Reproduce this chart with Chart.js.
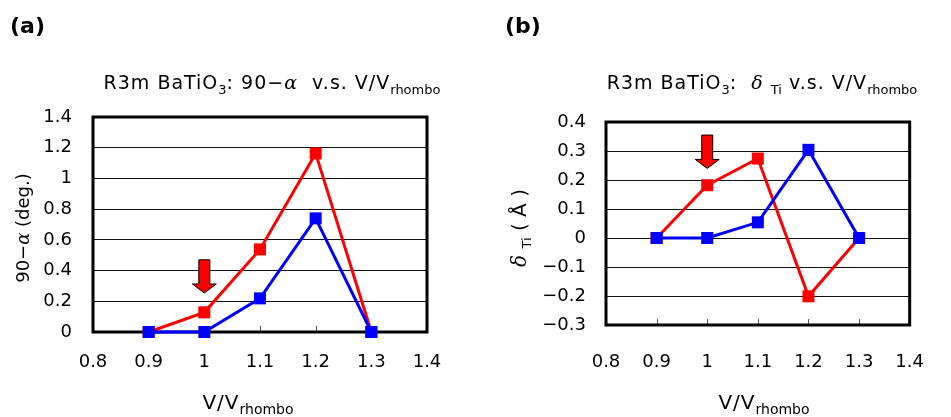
<!DOCTYPE html>
<html>
<head>
<meta charset="utf-8">
<script src="https://cdn.jsdelivr.net/npm/chart.js@4/dist/chart.umd.min.js"></script>
<style>
  body { margin: 0; background: #fff; }
  #wrap { position: relative; width: 951px; height: 417px; overflow: hidden;
          font-family: "DejaVu Sans", sans-serif; color: #000; }
  .panel { position: absolute; top: 0; width: 475px; height: 417px; }
  .txt { position: absolute; white-space: nowrap; line-height: 24px; }
  .tag { font-weight: bold; font-size: 22px; top: 14px; }
  .ttl { font-size: 19px; top: 70px; text-align: center; letter-spacing: 1px; }
  .xt { font-size: 20px; top: 390px; text-align: center; letter-spacing: 1px; }
  .xt sub { font-size: 14px; letter-spacing: 0; }
  .yt { font-size: 18px; transform: rotate(-90deg); transform-origin: center center; text-align: center; }
  sub { font-size: 13px; vertical-align: -5px; line-height: 0; letter-spacing: 0; }
  i { font-family: "DejaVu Serif", serif; }
</style>
</head>
<body>
<div id="wrap">
  <div class="panel" style="left:0"><canvas id="ca" width="475" height="417"></canvas></div>
  <div class="panel" style="left:476px"><canvas id="cb" width="475" height="417"></canvas></div>

  <div class="txt tag" style="left:10px">(a)</div>
  <div class="txt tag" style="left:505px">(b)</div>

  <div class="txt ttl" style="left:72px;width:400px">R3m BaTiO<sub>3</sub>: 90−<i>α</i>&nbsp; v.s. V/V<sub>rhombo</sub></div>
  <div class="txt ttl" style="left:562px;width:400px">R3m BaTiO<sub>3</sub>: &nbsp;<i>δ</i> <sub>Ti</sub> v.s. V/V<sub>rhombo</sub></div>

  <div class="txt xt" style="left:148px;width:200px">V/V<sub>rhombo</sub></div>
  <div class="txt xt" style="left:664px;width:200px">V/V<sub>rhombo</sub></div>

  <div class="txt yt" style="left:-77px;top:216px;width:200px">90−<i>α</i> (deg.)</div>
  <div class="txt yt" style="left:419px;top:216px;width:200px;font-size:20px"><i>δ</i> <sub>Ti</sub> ( Å )</div>
</div>

<script>
const volumeRatio = [0.9, 1.0, 1.1, 1.2, 1.3];

// (a) 90 - alpha (deg.)
const angleRed = [0, 0.128, 0.538, 1.163, 0];
const angleBlue = [0, 0, 0.219, 0.74, 0];

// (b) delta Ti (Angstrom)
const shiftRed = [0, 0.182, 0.274, -0.201, 0];
const shiftBlue = [0, 0, 0.054, 0.304, 0];

const xTicks = [0.8, 0.9, 1.0, 1.1, 1.2, 1.3, 1.4];
const angleTicks = [0, 0.2, 0.4, 0.6, 0.8, 1.0, 1.2, 1.4];
const shiftTicks = [-0.3, -0.2, -0.1, 0, 0.1, 0.2, 0.3, 0.4];

// marker arrows: x, top value, tip value
const arrowA = [1.0, 0.47, 0.254];
const arrowB = [1.0, 0.355, 0.24];

const FONT = "'DejaVu Sans', sans-serif";
const fmt = (v) => {
  const s = String(Number(v.toFixed(1)));
  return s.replace("-", "\u2212");
};

const pairs = (ys) => volumeRatio.map((x, i) => ({ x, y: ys[i] }));

const series = (data, color) => ({
  data: pairs(data),
  showLine: true,
  borderColor: color,
  backgroundColor: color,
  borderWidth: 3,
  pointStyle: "rect",
  pointRadius: 8.5,
  pointHoverRadius: 8.5,
  pointBorderWidth: 0,
  clip: false,
});

const framePlugin = {
  id: "frame",
  beforeDatasetsDraw(chart) {
    const { ctx, chartArea: a, scales } = chart;
    ctx.save();
    ctx.strokeStyle = "#555";
    ctx.lineWidth = 1;
    xTicks.slice(1, -1).forEach((v) => {
      const px = Math.round(scales.x.getPixelForValue(v)) + 0.5;
      ctx.beginPath();
      ctx.moveTo(px, a.bottom);
      ctx.lineTo(px, a.bottom - 6);
      ctx.stroke();
    });
    ctx.strokeStyle = "#000";
    ctx.lineWidth = 3;
    ctx.strokeRect(a.left, a.top, a.right - a.left, a.bottom - a.top);
    ctx.restore();
  },
  afterDatasetsDraw(chart, args, opts) {
    const [ax, top, tip] = opts.arrow;
    const { ctx, scales } = chart;
    const x = scales.x.getPixelForValue(ax);
    const yTop = scales.y.getPixelForValue(top);
    const yTip = scales.y.getPixelForValue(tip);
    const yNeck = yTip - 9;
    ctx.save();
    ctx.beginPath();
    ctx.moveTo(x - 5.5, yTop);
    ctx.lineTo(x + 5.5, yTop);
    ctx.lineTo(x + 5.5, yNeck);
    ctx.lineTo(x + 12, yNeck);
    ctx.lineTo(x, yTip);
    ctx.lineTo(x - 12, yNeck);
    ctx.lineTo(x - 5.5, yNeck);
    ctx.closePath();
    ctx.fillStyle = "#ff0000";
    ctx.fill();
    ctx.strokeStyle = "#000";
    ctx.lineWidth = 1;
    ctx.stroke();
    ctx.restore();
  },
};

function makeChart(id, red, blue, yTicks, arrow, box) {
  const yMin = yTicks[0];
  const yMax = yTicks[yTicks.length - 1];
  return new Chart(document.getElementById(id), {
    type: "scatter",
    data: { datasets: [series(blue, "#0000ff"), series(red, "#ff0000")] },
    options: {
      responsive: false,
      devicePixelRatio: 1,
      animation: false,
      events: [],
      layout: { padding: { left: 0, right: box.right, top: box.top, bottom: 0 } },
      plugins: { legend: { display: false }, tooltip: { enabled: false }, frame: { arrow } },
      scales: {
        x: {
          type: "linear",
          min: 0.8,
          max: 1.4,
          afterBuildTicks: (s) => { s.ticks = xTicks.map((v) => ({ value: v })); },
          afterFit: (s) => { s.height = box.xHeight; },
          grid: { display: false, drawTicks: false },
          border: { display: false },
          ticks: { padding: box.xPad, color: "#000", font: { family: FONT, size: 18 }, callback: fmt, maxRotation: 0 },
        },
        y: {
          type: "linear",
          min: yMin,
          max: yMax,
          afterBuildTicks: (s) => { s.ticks = yTicks.map((v) => ({ value: v })); },
          afterFit: (s) => { s.width = box.yWidth; },
          grid: { color: "#111", lineWidth: 1, drawTicks: false },
          border: { display: false },
          ticks: { padding: box.yPad, color: "#000", font: { family: FONT, size: 18 }, callback: fmt },
        },
      },
    },
    plugins: [framePlugin],
  });
}

makeChart("ca", angleRed, angleBlue, angleTicks, arrowA,
  { right: 48, top: 117, xHeight: 85, yWidth: 93, xPad: 20, yPad: 21 });
makeChart("cb", shiftRed, shiftBlue, shiftTicks, arrowB,
  { right: 15, top: 122, xHeight: 92, yWidth: 130, xPad: 27, yPad: 20 });
</script>
</body>
</html>
